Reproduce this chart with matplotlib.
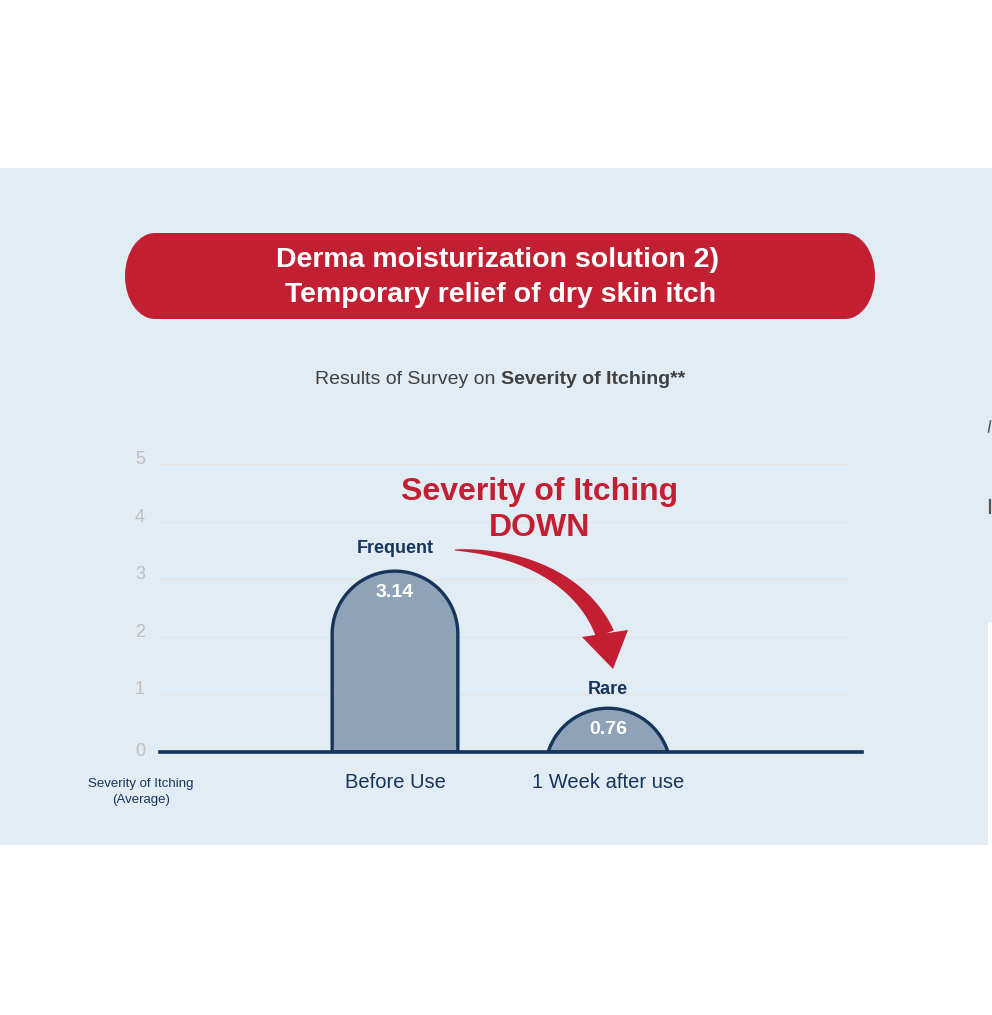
import numpy as np
import matplotlib
matplotlib.use('Agg')
import matplotlib.pyplot as plt
from matplotlib.patches import Rectangle, Ellipse, Polygon

#------------------------------------------------------------------------------
# Data
#------------------------------------------------------------------------------

categories = ['Before Use', '1 Week after use']
scores = [3.14, 0.76]
level_labels = ['Frequent', 'Rare']
y_ticks = [0, 1, 2, 3, 4, 5]

title_lines = 'Derma moisturization solution 2)\n Temporary relief of dry skin itch'
subtitle_plain = 'Results of Survey on '
subtitle_bold = 'Severity of Itching**'
callout = 'Severity of Itching\nDOWN'
y_caption = 'Severity of Itching\n(Average)'

#------------------------------------------------------------------------------
# Colours / fonts
#------------------------------------------------------------------------------

plt.rcParams['font.family'] = ['Liberation Sans', 'DejaVu Sans']
panel_blue = '#E1ECF5'
red = '#C21F32'
navy = '#17345A'
bar_fill = '#8EA3B7'
grid_col = '#E6E2DE'
tick_col = '#C0C0C0'

W, H = 992, 1015
fig = plt.figure(figsize=(W / 100, H / 100), dpi=100)
fig.patch.set_facecolor('white')

# background axes in pixel coordinates (y from top)
bg = fig.add_axes([0, 0, 1, 1])
bg.set_xlim(0, W)
bg.set_ylim(H, 0)
bg.axis('off')

bg.add_patch(Rectangle((0, 168), W, 677, color=panel_blue, lw=0))
bg.add_patch(Rectangle((988, 622), 4, 223, color='white', lw=0))
# slivers of something cut off at the right edge
bg.plot([988.5, 990.5], [432, 421], color='#555555', lw=1.1)
bg.plot([989.5, 989.5], [500, 513], color='#555555', lw=1.6)

# title pill
bg.add_patch(Rectangle((155, 233), 690, 86, color=red, lw=0))
bg.add_patch(Ellipse((155, 276), 60, 86, color=red, lw=0))
bg.add_patch(Ellipse((845, 276), 60, 86, color=red, lw=0))
bg.text(497, 277.5, title_lines, ha='center', va='center', color='white',
        fontsize=20.5, fontweight='bold', linespacing=1.42)

# subtitle, plain + bold part
t1 = bg.text(0, 380, subtitle_plain, ha='left', va='center', color='#404040', fontsize=14)
t2 = bg.text(0, 380, subtitle_bold, ha='left', va='center', color='#404040',
             fontsize=14, fontweight='bold')
renderer = fig.canvas.get_renderer()
w1 = t1.get_window_extent(renderer).width
w2 = t2.get_window_extent(renderer).width
x0 = 500 - (w1 + w2) / 2
t1.set_x(x0)
t2.set_x(x0 + w1)

bg.text(141, 792, y_caption, ha='center', va='center', color=navy,
        fontsize=9.5, linespacing=1.5)

#------------------------------------------------------------------------------
# Chart axes
#------------------------------------------------------------------------------

ax_left, ax_right, ax_bottom, ax_top = 160, 862, 752, 464
ax = fig.add_axes([ax_left / W, 1 - ax_bottom / H,
                   (ax_right - ax_left) / W, (ax_bottom - ax_top) / H])
ax.patch.set_visible(False)
for s in ax.spines.values():
    s.set_visible(False)

x = np.arange(len(categories))
xlim = (-1.103, 2.192)
ax.set_xlim(*xlim)
ax.set_ylim(0, 5)

sx = (ax_right - ax_left) / (xlim[1] - xlim[0])   # px per x unit
sy = (ax_bottom - ax_top) / 5.0                    # px per y unit

grid_end = 2.126
for yv in y_ticks[1:]:
    ax.plot([xlim[0], grid_end], [yv, yv], color=grid_col, lw=0.9, zorder=1)

# y tick labels: sit just above their gridline, 0 centred on the baseline
for yv in y_ticks:
    dy = 0 if yv == 0 else 3.3
    ax.annotate(str(yv), (0, yv), xycoords=('axes fraction', 'data'),
                xytext=(-14.5, dy), textcoords='offset points',
                ha='center', va='center', color=tick_col, fontsize=13)

bar_w = 0.59
r = bar_w * sx / 2
label_gap = [16.5, 13.5]
for xi, v, lab, gap in zip(x, scores, level_labels, label_gap):
    h = v * sy
    if h >= r:
        th = np.linspace(np.pi, 0, 80)
        px = np.concatenate([[-r], r * np.cos(th), [r]])
        py = np.concatenate([[0], (h - r) + r * np.sin(th), [0]])
    else:
        cy = h - r
        a0 = np.arcsin(-cy / r)
        th = np.linspace(np.pi - a0, a0, 80)
        px = r * np.cos(th)
        py = cy + r * np.sin(th)
    pts = np.column_stack([xi + px / sx, py / sy])
    ax.add_patch(Polygon(pts, closed=True, facecolor=bar_fill, edgecolor=navy,
                         lw=2.4, zorder=2, joinstyle='round'))
    ax.annotate(f'{v:.2f}', (xi, v), xytext=(0, -15.5), textcoords='offset points',
                ha='center', va='center', color='white', fontsize=14, fontweight='bold')
    ax.annotate(lab, (xi, v), xytext=(0, gap), textcoords='offset points',
                ha='center', va='center', color=navy, fontsize=13, fontweight='bold')

ax.axhline(0, color=navy, lw=2.6, zorder=4, clip_on=False)

ax.set_xticks(x, categories)
ax.set_yticks([])
ax.tick_params(axis='x', length=0, pad=15, labelsize=14.5, labelcolor=navy)

#------------------------------------------------------------------------------
# Callout text + curved arrow (overlay in pixel coords)
#------------------------------------------------------------------------------

top = fig.add_axes([0, 0, 1, 1])
top.set_xlim(0, W)
top.set_ylim(H, 0)
top.axis('off')
top.patch.set_visible(False)

top.text(540, 510, callout, ha='center', va='center', color=red,
         fontsize=23, fontweight='bold', linespacing=1.25)

P = np.array([[455, 550], [530, 552], [585, 585], [605, 634]], dtype=float)
t = np.linspace(0, 1, 120)[:, None]
curve = ((1 - t) ** 3 * P[0] + 3 * (1 - t) ** 2 * t * P[1]
         + 3 * (1 - t) * t ** 2 * P[2] + t ** 3 * P[3])
d = np.gradient(curve, axis=0)
d /= np.linalg.norm(d, axis=1)[:, None]
nrm = np.column_stack([-d[:, 1], d[:, 0]])
half = (0.5 + 9.0 * t[:, 0] ** 0.8)[:, None]
left = curve + nrm * half
right = curve - nrm * half
shaft = np.vstack([left, right[::-1]])
top.add_patch(Polygon(shaft, closed=True, color=red, lw=0))
head = np.array([[582, 637], [628, 630], [613, 669]])
top.add_patch(Polygon(head, closed=True, color=red, lw=0))

fig.savefig('out.png', dpi=100)
